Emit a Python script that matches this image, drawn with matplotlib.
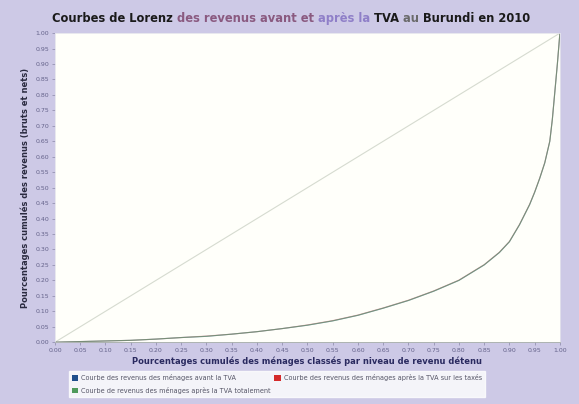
import numpy as np
import matplotlib
matplotlib.use("Agg")
import matplotlib.pyplot as plt
from matplotlib.patches import Patch

# --- data ---
menages = [0.00, 0.05, 0.10, 0.15, 0.20, 0.25, 0.30, 0.35, 0.40, 0.45, 0.50, 0.55,
           0.60, 0.65, 0.70, 0.75, 0.80, 0.85, 0.88, 0.90, 0.92, 0.94, 0.95, 0.96,
           0.97, 0.975, 0.98, 0.985, 0.99, 0.995, 1.00]
rev_avant = [0.000, 0.002, 0.004, 0.006, 0.010, 0.015, 0.019, 0.026, 0.034, 0.044, 0.055, 0.069,
             0.087, 0.110, 0.135, 0.165, 0.200, 0.250, 0.290, 0.325, 0.380, 0.445, 0.485, 0.530,
             0.580, 0.615, 0.650, 0.720, 0.810, 0.900, 1.000]
rev_apres_hauts = [0.000, 0.002, 0.004, 0.006, 0.010, 0.015, 0.020, 0.026, 0.034, 0.044, 0.056, 0.070,
                   0.088, 0.111, 0.136, 0.166, 0.201, 0.251, 0.291, 0.326, 0.381, 0.446, 0.486, 0.531,
                   0.581, 0.616, 0.651, 0.721, 0.811, 0.901, 1.000]
rev_apres_total = [0.000, 0.002, 0.004, 0.006, 0.010, 0.015, 0.019, 0.026, 0.034, 0.044, 0.055, 0.069,
                   0.087, 0.110, 0.135, 0.165, 0.200, 0.250, 0.290, 0.325, 0.380, 0.445, 0.485, 0.530,
                   0.580, 0.615, 0.650, 0.720, 0.810, 0.900, 1.000]
egalite = [0.0, 1.0]

ticks = np.round(np.arange(0, 1.0001, 0.05), 2)
tick_labels = [f"{t:.2f}" for t in ticks]

legend_labels = [
    "Courbe des revenus des ménages avant la TVA",
    "Courbe des revenus des ménages après la TVA sur les taxés",
    "Courbe de revenus des ménages après la TVA totalement",
]
colors = ["#1f4e8c", "#d42a2a", "#4f9a5c"]

BG = "#cdc9e6"

fig = plt.figure(figsize=(5.79, 4.04), dpi=100, facecolor=BG)
ax = fig.add_axes([0.095, 0.153, 0.872, 0.765])
ax.set_facecolor("#fffffa")

# diagonal (égalité parfaite)
ax.plot(egalite, egalite, color="#d6dbd0", lw=0.8)

ax.plot(menages, rev_avant, color=colors[0], lw=0.8, alpha=0.5)
ax.plot(menages, rev_apres_hauts, color=colors[1], lw=0.8, alpha=0.3)
ax.plot(menages, rev_apres_total, color=colors[2], lw=0.8, alpha=0.5)

ax.set_xlim(0, 1)
ax.set_ylim(0, 1)
ax.set_xticks(ticks)
ax.set_xticklabels(tick_labels)
ax.set_yticks(ticks)
ax.set_yticklabels(tick_labels)
ax.tick_params(labelsize=4.5, colors="#8a88a8", length=2, width=0.5, pad=2)
for lab in ax.get_xticklabels() + ax.get_yticklabels():
    lab.set_color("#64628a")
for s in ax.spines.values():
    s.set_color("#e4e4ec")
    s.set_linewidth(0.6)
ax.spines["bottom"].set_color("#a8b0a8")

ax.set_xlabel("Pourcentages cumulés des ménages classés par niveau de revenu détenu",
              fontsize=6, fontweight="bold", color="#2a2a60", labelpad=3)
ax.set_ylabel("Pourcentages cumulés des revenus (bruts et nets)",
              fontsize=6, fontweight="bold", color="#2a2a40", labelpad=4)

# multi-coloured title
parts = [("Courbes de Lorenz ", "#1a1a1a"), ("des revenus avant et ", "#8a5a80"),
         ("après la ", "#8f7fc8"), ("TVA ", "#1a1a1a"), ("au ", "#6a6a6a"),
         ("Burundi en 2010", "#1a1a1a")]
t = fig.text(0.09, 0.955, parts[0][0], fontsize=8.3, fontweight="bold", color=parts[0][1],
             va="center", ha="left")
for txt, col in parts[1:]:
    t = ax.annotate(txt, xy=(1, 0), xycoords=t, xytext=(0, 0), textcoords="offset points",
                    fontsize=8.3, fontweight="bold", color=col, va="bottom", ha="left",
                    annotation_clip=False)

# legend: row-wise order (matplotlib fills columns first)
order = [0, 2, 1]
handles = [Patch(facecolor=colors[i], edgecolor="none") for i in order]
labels = [legend_labels[i] for i in order]
leg = fig.legend(handles, labels, loc="center", bbox_to_anchor=(0.478, 0.05),
                 ncol=2, fontsize=4.7, frameon=True, fancybox=False, handlelength=1.0,
                 handleheight=1.0, columnspacing=0.6, handletextpad=0.4, borderpad=0.5,
                 labelspacing=0.9)
leg.get_frame().set_facecolor("white")
leg.get_frame().set_edgecolor("white")
for txt in leg.get_texts():
    txt.set_color("#555566")

fig.savefig("out.png", dpi=100, facecolor=BG)
